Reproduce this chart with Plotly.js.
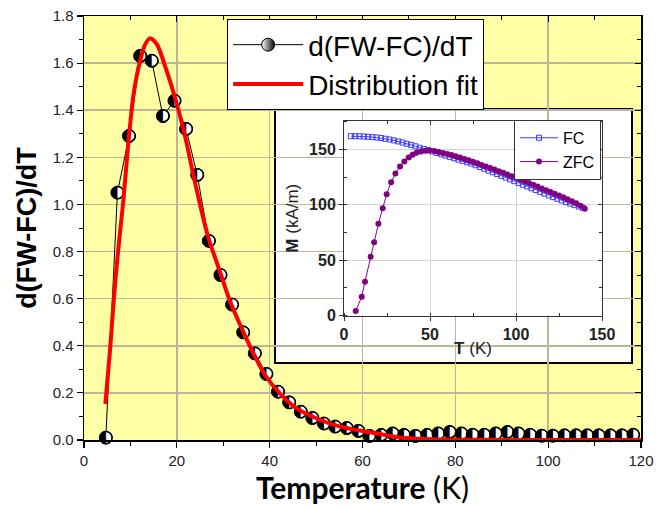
<!DOCTYPE html>
<html><head><meta charset="utf-8">
<script src="https://cdn.plot.ly/plotly-3.0.1.min.js"></script>
<style>html,body{margin:0;padding:0;background:#fff}</style>
</head><body><div id="chart" style="width:667px;height:509px"></div>
<script>
// ---- main panel: d(FW-FC)/dT vs Temperature ----
const tempK = [4.7, 7.2, 9.7, 12.1, 14.6, 17.0, 19.5, 22.0, 24.4, 26.9, 29.4, 31.9, 34.3, 36.8, 39.3, 41.8, 44.2, 46.7, 49.2, 51.7, 54.1, 56.6, 59.1, 61.5, 64.0, 66.5, 68.9, 71.4, 73.9, 76.3, 78.8, 81.3, 83.7, 86.2, 88.7, 91.2, 93.6, 96.1, 98.6, 101.0, 103.5, 106.0, 108.4, 110.9, 113.4, 115.9, 118.3];
const dFWFC = [0.01, 1.05, 1.29, 1.63, 1.61, 1.375, 1.44, 1.32, 1.125, 0.845, 0.70, 0.575, 0.457, 0.368, 0.28, 0.205, 0.16, 0.12, 0.093, 0.07, 0.057, 0.05, 0.038, 0.017, 0.021, 0.028, 0.021, 0.017, 0.021, 0.028, 0.033, 0.028, 0.022, 0.022, 0.028, 0.033, 0.028, 0.022, 0.018, 0.018, 0.02, 0.02, 0.02, 0.02, 0.02, 0.02, 0.022];
const fitT = [4.6, 5.6, 6.3, 7.0, 7.8, 8.5, 9.5, 10.6, 11.4, 12.1, 13.1, 14.2, 15.7, 17.5, 18.9, 20.5, 22.0, 23.5, 25.0, 26.1, 27.0, 29.3, 31.5, 34.3, 36.5, 39.0, 42.2, 45.8, 50.9, 55.0, 60.9, 68.1, 75.2, 85.0, 100.0, 120.0];
const fitY = [0.153, 0.38, 0.566, 0.73, 0.89, 1.02, 1.25, 1.457, 1.55, 1.61, 1.676, 1.705, 1.68, 1.585, 1.50, 1.39, 1.27, 1.13, 1.00, 0.91, 0.846, 0.714, 0.587, 0.46, 0.368, 0.276, 0.198, 0.134, 0.085, 0.058, 0.035, 0.011, 0.003, 0.001, 0.0, 0.0];

// ---- inset: M vs T ----
const fcT = [4, 6.5, 9, 11.5, 14, 16.5, 19, 21.5, 24, 26.5, 29, 31.5, 34, 36.5, 39, 41.5, 44, 46.5, 49, 51.5, 54, 56.5, 59, 61.5, 64, 66.5, 69, 71.5, 74, 76.5, 79, 81.5, 84, 86.5, 89, 91.5, 94, 96.5, 99, 101.5, 104, 106.5, 109, 111.5, 114, 116.5, 119, 121.5, 124, 126.5, 129, 131.5, 134, 136.5, 139];
const fcM = [162.0, 162.0, 161.9, 161.7, 161.5, 161.2, 160.8, 160.3, 159.7, 159.0, 158.2, 157.3, 156.3, 155.2, 154.1, 152.9, 151.6, 150.4, 149.3, 148.1, 146.9, 145.7, 144.5, 143.3, 142.1, 140.9, 139.7, 138.5, 137.3, 135.8, 134.2, 132.6, 131.0, 129.4, 127.8, 126.2, 124.6, 123.0, 121.4, 119.8, 118.2, 116.6, 115.0, 113.4, 111.8, 110.2, 108.6, 107.0, 105.5, 104.0, 102.6, 101.2, 99.8, 98.5, 97.2];
const zfcT = [6.8, 10.3, 12.2, 15.5, 17.5, 20.0, 22.5, 24.8, 27.4, 29.9, 32.6, 35.1, 37.6, 39.9, 42.2, 44.8, 47.3, 49.6, 52.5, 55, 57.5, 60, 62.5, 65, 67.5, 70, 72.5, 75, 77.5, 80, 82.5, 85, 87.5, 90, 92.5, 95, 97.5, 100, 102.5, 105, 107.5, 110, 112.5, 115, 117.5, 120, 122.5, 125, 127.5, 130, 132.5, 135, 137.5, 140];
const zfcM = [4.2, 17.2, 30.7, 53.3, 66.3, 82.9, 97.0, 109.7, 120.5, 128.3, 134.6, 139.2, 142.8, 145.2, 147.0, 148.2, 148.8, 149.1, 148.6, 147.8, 146.9, 146.0, 145.0, 143.9, 142.7, 141.5, 140.2, 138.9, 137.5, 136.1, 134.7, 133.3, 131.9, 130.4, 128.9, 127.4, 125.9, 124.4, 122.9, 121.3, 119.7, 118.1, 116.5, 114.9, 113.2, 111.6, 110.0, 108.4, 106.8, 105.1, 103.3, 101.4, 99.2, 96.5];

const mainName = 'd(FW-FC)/dT';
const fitName = 'Distribution fit';
const halfGlyph = '\u25D0';

const ARIAL = 'Liberation Sans, Arial, sans-serif';

const traces = [
  // connecting line (legend entry, half-shaded marker)
  {x: tempK, y: dFWFC, mode: 'lines+markers', name: mainName, legend: 'legend', cliponaxis: false,
   line: {color: '#000', width: 1},
   marker: {symbol: 'circle', size: 13, color: '#fff', gradient: {type: 'horizontal', color: '#000'}, line: {color: '#000', width: 1}}},
  // white discs
  {x: tempK, y: dFWFC, mode: 'markers', showlegend: false, cliponaxis: false,
   marker: {symbol: 'circle', size: 12, color: '#fff', line: {color: '#000', width: 1}}},
  // half-filled glyph on top
  {x: tempK, y: dFWFC, mode: 'text', showlegend: false, cliponaxis: false,
   text: tempK.map(() => halfGlyph), textposition: 'middle center',
   textfont: {family: 'DejaVu Sans', size: 17, color: '#000'}, hoverinfo: 'skip'},
  // fit
  {x: fitT, y: fitY, mode: 'lines', name: fitName, legend: 'legend',
   line: {color: '#ff0000', width: 4, shape: 'spline', smoothing: 0.8}},
  // dummy for mirror axes
  {x: [], y: [], xaxis: 'x3', yaxis: 'y3', showlegend: false, hoverinfo: 'skip'},
  // inset
  {x: fcT, y: fcM, xaxis: 'x2', yaxis: 'y2', mode: 'lines+markers', name: 'FC', legend: 'legend2',
   line: {color: '#3a3aff', width: 1},
   marker: {symbol: 'square-open', size: 5, color: '#3a3aff', line: {width: 1}}},
  {x: zfcT, y: zfcM, xaxis: 'x2', yaxis: 'y2', mode: 'lines+markers', name: 'ZFC', legend: 'legend2',
   line: {color: '#8b008b', width: 1},
   marker: {symbol: 'circle', size: 6, color: '#800080'}},
  {x: [], y: [], xaxis: 'x4', yaxis: 'y4', showlegend: false, hoverinfo: 'skip'}
];

const tickF = {family: ARIAL, size: 15, color: '#222'};
const insetTickF = {family: ARIAL, size: 16, color: '#222', weight: 'bold'};

const layout = {
  width: 667, height: 509,
  margin: {l: 84, r: 26, t: 16, b: 69},
  paper_bgcolor: '#ffffff',
  plot_bgcolor: '#ffffff',
  showlegend: true,
  xaxis: {
    domain: [0, 1], range: [0, 120], tick0: 0, dtick: 20,
    ticks: 'outside', ticklen: 6, tickwidth: 1.2, tickcolor: '#000',
    showline: true, linecolor: '#000', linewidth: 1.5, zeroline: false,
    showgrid: true, gridcolor: '#b9b699', gridwidth: 1.5,
    minor: {dtick: 10, ticks: 'outside', ticklen: 4, tickcolor: '#000', tickwidth: 1, showgrid: false},
    tickfont: tickF,
    title: {text: '<b>Temperature</b> (K)', font: {family: 'Lato', size: 30, color: '#000'}, standoff: 5}
  },
  yaxis: {
    domain: [0, 1], range: [0, 1.8], tick0: 0, dtick: 0.2, tickformat: '.1f',
    ticks: 'outside', ticklen: 6, tickwidth: 1.2, tickcolor: '#000',
    showline: true, linecolor: '#000', linewidth: 1.5, zeroline: false,
    showgrid: true, gridcolor: '#b9b699', gridwidth: 1.5,
    minor: {dtick: 0.1, ticks: 'outside', ticklen: 4, tickcolor: '#000', tickwidth: 1, showgrid: false},
    tickfont: tickF,
    title: {text: '<b>d(FW-FC)/dT</b>', font: {family: ARIAL, size: 27, color: '#000'}, standoff: 8}
  },
  xaxis3: {
    overlaying: 'x', side: 'top', anchor: 'y', range: [0, 120], tick0: 0, dtick: 20,
    ticks: 'inside', ticklen: 6, tickcolor: '#000', showticklabels: false, showgrid: false, zeroline: false,
    showline: true, linecolor: '#000', linewidth: 1.5,
    minor: {dtick: 10, ticks: 'inside', ticklen: 4, tickcolor: '#000', showgrid: false}
  },
  yaxis3: {
    overlaying: 'y', side: 'right', anchor: 'x', range: [0, 1.8], tick0: 0, dtick: 0.2,
    ticks: 'inside', ticklen: 6, tickcolor: '#000', showticklabels: false, showgrid: false, zeroline: false,
    showline: true, linecolor: '#000', linewidth: 1.5,
    minor: {dtick: 0.1, ticks: 'inside', ticklen: 4, tickcolor: '#000', showgrid: false}
  },
  xaxis2: {
    domain: [0.4668, 0.930], anchor: 'y2', range: [0, 150], tick0: 0, dtick: 50,
    ticks: 'outside', ticklen: 4, tickcolor: '#333',
    showline: true, linecolor: '#333', linewidth: 1, zeroline: false,
    showgrid: true, gridcolor: '#d4d4d4', gridwidth: 1,
    minor: {dtick: 25, ticks: 'inside', ticklen: 3, tickcolor: '#333', showgrid: false},
    tickfont: insetTickF,
    title: {text: '<b>T</b> (K)', font: {family: ARIAL, size: 17, color: '#222'}, standoff: 0}
  },
  yaxis2: {
    domain: [0.2932, 0.7531], anchor: 'x2', range: [0, 176], tick0: 0, dtick: 50,
    ticks: 'outside', ticklen: 4, tickcolor: '#333',
    showline: true, linecolor: '#333', linewidth: 1, zeroline: false,
    showgrid: true, gridcolor: '#d4d4d4', gridwidth: 1,
    minor: {dtick: 25, ticks: 'inside', ticklen: 3, tickcolor: '#333', showgrid: false},
    tickfont: insetTickF,
    title: {text: '<b>M</b> (kA/m)', font: {family: ARIAL, size: 17, color: '#222'}, standoff: 6}
  },
  xaxis4: {
    overlaying: 'x2', side: 'top', anchor: 'y2', range: [0, 150], tick0: 0, dtick: 50,
    ticks: 'inside', ticklen: 4, tickcolor: '#333', showticklabels: false, showgrid: false, zeroline: false,
    showline: true, linecolor: '#333', linewidth: 1,
    minor: {dtick: 25, ticks: 'inside', ticklen: 3, tickcolor: '#333', showgrid: false}
  },
  yaxis4: {
    overlaying: 'y2', side: 'right', anchor: 'x2', range: [0, 176], tick0: 0, dtick: 50,
    ticks: 'inside', ticklen: 4, tickcolor: '#333', showticklabels: false, showgrid: false, zeroline: false,
    showline: true, linecolor: '#333', linewidth: 1,
    minor: {dtick: 25, ticks: 'inside', ticklen: 3, tickcolor: '#333', showgrid: false}
  },
  legend: {
    x: 0.257, y: 0.993, xanchor: 'left', yanchor: 'top',
    bgcolor: '#ffffff', bordercolor: '#000', borderwidth: 1,
    font: {family: ARIAL, size: 28, color: '#000'}, itemwidth: 70, tracegroupgap: 0
  },
  legend2: {
    x: 0.772, y: 0.755, xanchor: 'left', yanchor: 'top',
    bgcolor: '#ffffff', bordercolor: '#333', borderwidth: 1,
    font: {family: ARIAL, size: 16, color: '#000'}, itemwidth: 38
  },
  shapes: [
    // yellow plot background of the main panel
    {type: 'rect', xref: 'x domain', yref: 'y domain', x0: 0, x1: 1, y0: 0, y1: 1,
     fillcolor: '#ffffa6', line: {width: 0}, layer: 'below'},
    // white inset frame
    {type: 'rect', xref: 'x2 domain', yref: 'y2 domain', x0: -0.2674, x1: 1.1163, y0: -0.2426, y1: 1.06,
     fillcolor: '#ffffff', line: {color: '#000', width: 2}, layer: 'below'}
  ]
};

Plotly.newPlot('chart', traces, layout, {displayModeBar: false, staticPlot: true});
</script></body></html>
